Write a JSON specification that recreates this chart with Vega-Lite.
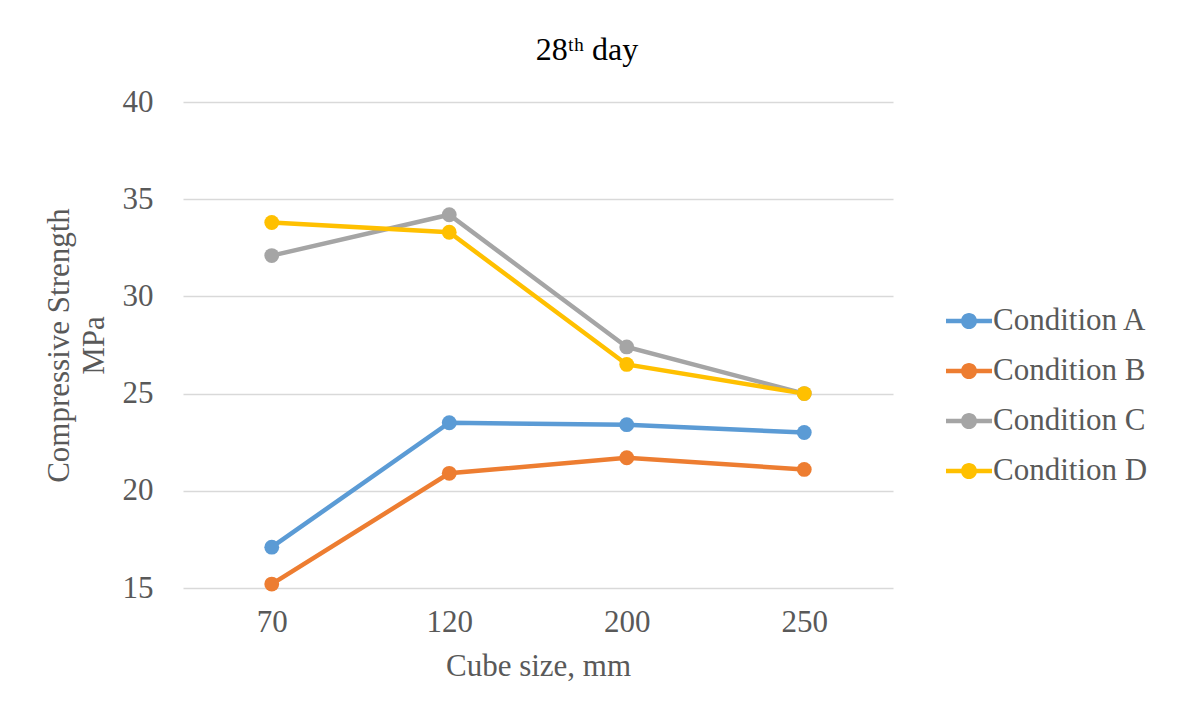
{
  "$schema": "https://vega.github.io/schema/vega-lite/v6.json",
  "autosize": {"type": "none"},
  "width": 710,
  "height": 486,
  "padding": {"left": 183, "top": 102, "right": 285, "bottom": 125},
  "background": "white",
  "title": {
    "text": "28ᵗʰ day",
    "font": "Liberation Serif",
    "fontSize": 32,
    "fontWeight": "normal",
    "color": "#000000",
    "anchor": "middle",
    "dx": 49,
    "offset": 19
  },
  "data": {
    "values": [
      {"size": "70", "condition": "Condition A", "strength": 17.1},
      {"size": "120", "condition": "Condition A", "strength": 23.5},
      {"size": "200", "condition": "Condition A", "strength": 23.4},
      {"size": "250", "condition": "Condition A", "strength": 23.0},
      {"size": "70", "condition": "Condition B", "strength": 15.2},
      {"size": "120", "condition": "Condition B", "strength": 20.9},
      {"size": "200", "condition": "Condition B", "strength": 21.7},
      {"size": "250", "condition": "Condition B", "strength": 21.1},
      {"size": "70", "condition": "Condition C", "strength": 32.1},
      {"size": "120", "condition": "Condition C", "strength": 34.2},
      {"size": "200", "condition": "Condition C", "strength": 27.4},
      {"size": "250", "condition": "Condition C", "strength": 25.0},
      {"size": "70", "condition": "Condition D", "strength": 33.8},
      {"size": "120", "condition": "Condition D", "strength": 33.3},
      {"size": "200", "condition": "Condition D", "strength": 26.5},
      {"size": "250", "condition": "Condition D", "strength": 25.0}
    ]
  },
  "mark": {
    "type": "line",
    "strokeWidth": 4.5,
    "point": {"filled": true, "size": 220, "opacity": 1}
  },
  "encoding": {
    "x": {
      "field": "size",
      "type": "ordinal",
      "sort": ["70", "120", "200", "250"],
      "scale": {"type": "point", "padding": 0.5},
      "axis": {
        "title": "Cube size, mm",
        "labelAngle": 0,
        "grid": false,
        "domain": false,
        "ticks": false,
        "tickSize": 0,
        "labelPadding": 19,
        "titlePadding": 14
      }
    },
    "y": {
      "field": "strength",
      "type": "quantitative",
      "scale": {"domain": [15, 40], "nice": false, "zero": false},
      "axis": {
        "title": ["Compressive Strength", "MPa"],
        "values": [15, 20, 25, 30, 35, 40],
        "domain": false,
        "ticks": false,
        "tickSize": 0,
        "labelPadding": 30,
        "titlePadding": 12,
        "titleLineHeight": 35,
        "gridColor": "#D9D9D9",
        "gridWidth": 1.5
      }
    },
    "color": {
      "field": "condition",
      "type": "nominal",
      "scale": {
        "domain": ["Condition A", "Condition B", "Condition C", "Condition D"],
        "range": ["#5B9BD5", "#ED7D31", "#A5A5A5", "#FFC000"]
      },
      "legend": {
        "title": null,
        "orient": "none",
        "legendX": 763,
        "legendY": 196,
        "symbolType": "M -1 -0.1 L 1 -0.1 L 1 0.1 L -1 0.1 Z M 0.35 0 A 0.35 0.35 0 1 1 -0.35 0 A 0.35 0.35 0 1 1 0.35 0 Z",
        "symbolSize": 2116,
        "symbolStrokeWidth": 0,
        "labelOffset": 1,
        "rowPadding": 12,
        "padding": 0,
        "labelFont": "Liberation Serif",
        "labelFontSize": 31,
        "labelColor": "#595959",
        "labelLimit": 300,
        "encode": {
          "symbols": {
            "update": {
              "fill": {"scale": "color", "field": "value"},
              "fillOpacity": {"value": 1},
              "strokeWidth": {"value": 0}
            }
          }
        }
      }
    }
  },
  "config": {
    "view": {"stroke": null},
    "axis": {
      "labelFont": "Liberation Serif",
      "labelFontSize": 31,
      "labelColor": "#595959",
      "titleFont": "Liberation Serif",
      "titleFontSize": 31,
      "titleFontWeight": "normal",
      "titleColor": "#595959"
    }
  }
}
